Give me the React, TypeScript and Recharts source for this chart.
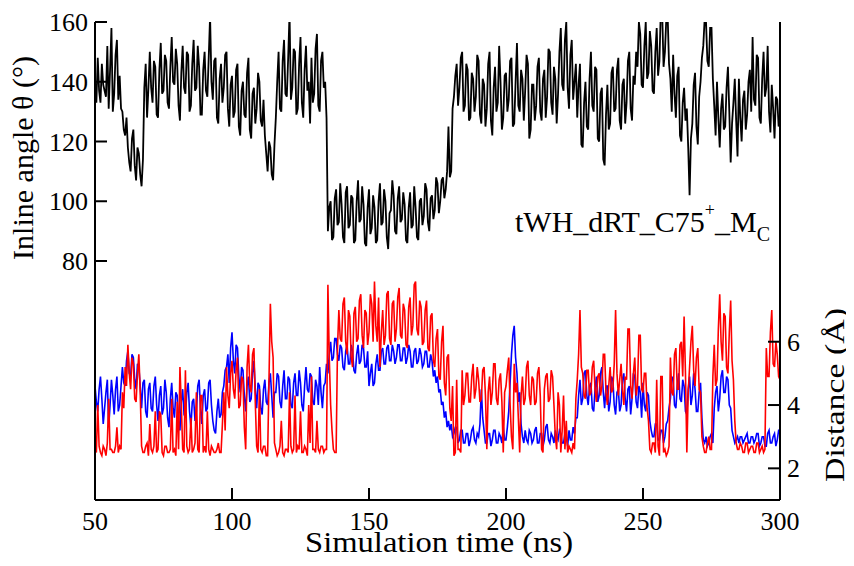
import { ComposedChart, Line, XAxis, YAxis } from "recharts";

// sampled every 0.5 ns from 50 to 300 ns (one row = 10 ns)
const angle = [
  140, 133, 148, 137, 133, 146, 139, 137, 135, 152, 131, 144, 158, 130, 136, 149, 154, 134, 142, 131,
  130, 124, 122, 128, 118, 113, 110, 121, 124, 112, 107, 118, 116, 109, 105, 114, 138, 146, 128, 138,
  150, 138, 133, 147, 145, 129, 128, 144, 153, 136, 137, 149, 147, 133, 131, 145, 155, 140, 139, 151,
  146, 132, 127, 143, 152, 138, 136, 150, 149, 130, 132, 146, 154, 137, 138, 152, 145, 129, 129, 144,
  150, 137, 135, 148, 162, 140, 134, 147, 148, 128, 126, 141, 146, 133, 138, 149, 150, 131, 125, 139,
  142, 128, 130, 144, 146, 125, 122, 137, 140, 129, 128, 143, 148, 124, 121, 136, 138, 126, 131, 143,
  140, 127, 125, 134, 122, 116, 110, 120, 118, 109, 107, 119, 128, 140, 150, 131, 130, 147, 154, 136,
  135, 148, 163, 134, 138, 151, 150, 129, 131, 146, 155, 133, 128, 144, 152, 137, 140, 126, 148, 133,
  136, 151, 156, 132, 130, 147, 150, 138, 140, 128, 90, 98, 100, 87, 88, 101, 104, 92, 93, 106,
  99, 88, 86, 103, 105, 91, 92, 102, 101, 86, 87, 100, 107, 93, 94, 105, 99, 86, 85, 98,
  104, 89, 91, 102, 98, 86, 87, 100, 106, 92, 93, 104, 100, 88, 84, 96, 97, 107, 102, 90,
  89, 101, 105, 93, 94, 103, 99, 87, 86, 98, 103, 91, 92, 105, 98, 88, 87, 100, 101, 92,
  95, 106, 104, 93, 90, 101, 102, 94, 97, 108, 106, 96, 100, 107, 108, 101, 104, 110, 125, 108,
  110, 131, 135, 142, 146, 132, 138, 148, 150, 130, 132, 146, 144, 127, 128, 143, 141, 130, 135, 149,
  147, 129, 126, 141, 139, 125, 131, 146, 150, 127, 122, 138, 145, 130, 133, 152, 140, 124, 128, 142,
  143, 130, 134, 147, 148, 125, 126, 140, 153, 132, 130, 144, 141, 127, 137, 149, 146, 121, 124, 139,
  139, 127, 132, 145, 148, 130, 127, 141, 144, 128, 135, 151, 150, 133, 129, 145, 141, 126, 136, 150,
  158, 139, 137, 154, 160, 138, 131, 149, 154, 134, 140, 146, 128, 139, 146, 119, 118, 133, 140, 125,
  124, 141, 150, 132, 130, 145, 144, 121, 120, 136, 138, 114, 112, 129, 139, 124, 126, 143, 145, 130,
  131, 144, 148, 127, 124, 139, 141, 126, 133, 147, 150, 131, 127, 142, 139, 150, 145, 160, 156, 139,
  138, 152, 160, 141, 143, 157, 152, 137, 136, 150, 158, 142, 147, 164, 163, 145, 150, 161, 162, 146,
  141, 130, 149, 136, 128, 142, 145, 122, 120, 133, 138, 127, 131, 118, 102, 121, 126, 139, 143, 125,
  119, 135, 140, 148, 152, 161, 160, 147, 145, 158, 158, 141, 132, 122, 140, 128, 118, 131, 136, 124,
  125, 138, 145, 130, 113, 126, 133, 141, 127, 115, 141, 128, 120, 134, 137, 124, 129, 140, 144, 130,
  155, 134, 132, 149, 148, 128, 126, 141, 150, 135, 138, 152, 130, 123, 139, 131, 121, 135, 134, 125,
  128,
];

const distBlue = [
  4.6, 4.1, 3.8, 4.5, 4.9, 4.2, 3.4, 3.9, 4.4, 4.8, 3.3, 4.0, 4.8, 4.3, 3.7, 4.5, 4.9, 3.8, 4.0, 4.6,
  5.2, 4.7, 4.6, 5.4, 5.7, 5.0, 4.9, 5.6, 5.5, 4.8, 4.5, 5.3, 5.2, 4.6, 3.9, 4.7, 4.8, 3.8, 3.6, 4.5,
  4.7, 3.9, 3.8, 4.6, 4.9, 4.0, 3.5, 4.3, 4.6, 3.7, 3.9, 4.8, 4.4, 3.6, 3.3, 4.2, 4.7, 3.9, 3.6, 4.4,
  4.3, 3.5, 3.2, 4.1, 4.5, 3.7, 3.6, 4.4, 4.7, 3.8, 3.3, 4.1, 4.2, 3.5, 3.8, 4.6, 4.8, 3.9, 3.4, 4.3,
  4.5, 3.8, 3.9, 4.7, 4.8, 4.0, 3.5, 3.2, 3.1, 3.8, 4.2, 3.6, 3.7, 4.4, 4.6, 5.1, 5.2, 5.6, 4.7, 5.8,
  6.3, 5.4, 5.0, 5.9, 5.8, 4.9, 4.4, 5.2, 5.1, 4.3, 3.8, 4.6, 4.9, 4.1, 4.2, 5.0, 5.4, 4.5, 3.9, 4.7,
  4.6, 3.9, 3.7, 4.5, 4.8, 4.1, 4.0, 4.7, 5.0, 4.3, 3.6, 4.4, 4.4, 5.0, 4.9, 4.1, 3.9, 4.6, 5.1, 4.2,
  4.2, 4.9, 4.8, 4.0, 3.9, 4.7, 5.0, 4.3, 4.3, 5.1, 4.7, 4.0, 3.8, 4.6, 5.2, 4.5, 4.4, 5.0, 4.9, 4.1,
  4.0, 4.8, 4.6, 4.0, 5.2, 4.4, 3.9, 4.6, 4.7, 5.3, 5.0, 5.6, 6.0, 5.4, 5.5, 6.1, 6.1, 5.6, 5.4, 5.9,
  5.8, 5.2, 5.1, 5.7, 5.9, 5.3, 5.3, 5.9, 5.7, 5.1, 5.0, 5.6, 5.9, 5.3, 5.4, 5.9, 5.8, 5.2, 5.2, 5.7,
  4.6, 5.0, 5.3, 4.6, 4.7, 5.3, 5.6, 5.1, 5.1, 5.7, 5.8, 5.3, 5.3, 5.8, 5.9, 5.4, 5.4, 5.9, 5.7, 5.3,
  5.5, 5.9, 5.9, 5.4, 5.4, 5.8, 5.8, 5.3, 5.5, 5.9, 5.7, 5.2, 5.2, 5.7, 5.8, 5.3, 5.4, 5.8, 5.6, 5.2,
  5.3, 5.7, 5.7, 5.2, 5.2, 5.6, 5.4, 4.9, 5.1, 4.7, 4.9, 4.4, 4.5, 4.0, 4.1, 3.6, 3.8, 3.3, 3.5, 3.2,
  3.4, 3.0, 3.1, 3.3, 3.3, 2.8, 2.9, 3.2, 3.2, 2.8, 2.8, 3.1, 3.1, 2.7, 2.9, 3.2, 3.3, 2.9, 2.8, 3.1,
  3.0, 3.4, 4.5, 3.6, 3.2, 2.8, 2.8, 3.1, 3.1, 2.7, 2.9, 3.2, 3.2, 2.8, 2.8, 3.1, 3.0, 2.8, 3.3, 2.9,
  2.9, 3.3, 3.8, 4.7, 5.6, 6.2, 6.5, 5.5, 5.0, 4.1, 4.4, 3.4, 3.0, 2.8, 3.2, 2.9, 2.8, 3.2, 3.1, 2.8,
  2.9, 3.2, 3.3, 2.8, 2.8, 3.1, 3.1, 2.7, 2.9, 3.3, 3.4, 2.9, 2.8, 3.1, 3.0, 2.8, 3.2, 3.0, 2.9, 3.2,
  3.1, 2.8, 2.8, 3.1, 3.0, 2.7, 3.2, 2.9, 2.9, 3.3, 3.1, 3.6, 3.6, 4.3, 4.8, 4.0, 4.2, 5.0, 5.1, 4.3,
  4.0, 4.6, 4.7, 3.9, 3.8, 4.5, 4.9, 4.1, 4.3, 5.0, 5.2, 4.4, 3.9, 4.6, 4.6, 3.8, 4.1, 4.9, 4.8, 4.0,
  3.7, 4.4, 4.5, 3.8, 4.0, 4.8, 5.0, 4.2, 3.8, 4.5, 4.6, 3.7, 4.2, 5.0, 4.9, 4.1, 3.9, 4.6, 4.4, 3.6,
  4.7, 4.0, 3.8, 4.4, 4.3, 3.5, 3.2, 3.0, 3.0, 3.4, 3.4, 2.9, 2.9, 3.2, 3.2, 2.8, 3.0, 3.4, 3.5, 3.9,
  4.2, 4.9, 4.8, 4.0, 3.9, 4.6, 5.0, 4.2, 4.1, 4.8, 4.6, 3.8, 3.7, 4.5, 4.9, 4.0, 4.3, 5.0, 4.5, 3.8,
  3.8, 4.4, 4.7, 3.6, 2.9, 2.8, 3.0, 2.7, 2.8, 3.0, 3.1, 2.8, 3.9, 4.4, 4.6, 3.8, 4.2, 4.9, 5.1, 4.4,
  4.4, 4.9, 4.8, 4.0, 3.9, 3.2, 3.0, 2.8, 2.9, 3.0, 2.8, 3.0, 3.0, 2.8, 2.9, 3.0, 3.1, 2.8, 2.8, 3.0,
  3.0, 2.8, 2.9, 3.1, 3.1, 2.7, 2.8, 3.0, 3.0, 2.7, 2.7, 3.1, 3.2, 2.8, 2.8, 3.0, 3.1, 2.7, 2.9, 3.2,
  3.2,
];

const distRed = [
  2.6, 2.5, 4.0, 2.7, 2.5, 2.4, 2.7, 2.6, 2.4, 2.8, 4.2, 2.6, 2.6, 2.5, 2.5, 2.7, 3.3, 2.5, 2.7, 2.6,
  4.4, 3.9, 5.2, 4.6, 5.9, 5.0, 4.5, 5.5, 5.3, 4.2, 4.1, 5.0, 5.6, 4.4, 2.7, 2.5, 2.5, 2.7, 2.8, 2.4,
  3.4, 2.6, 2.5, 2.7, 3.8, 2.5, 2.6, 3.8, 3.7, 2.5, 2.4, 2.7, 2.7, 2.5, 2.5, 2.6, 4.2, 2.5, 2.6, 2.4,
  4.1, 2.6, 5.2, 4.0, 2.6, 2.5, 5.1, 2.7, 2.5, 2.6, 3.6, 2.5, 2.6, 2.8, 4.4, 2.6, 2.5, 4.3, 4.3, 2.5,
  2.7, 2.5, 3.8, 2.6, 2.4, 2.7, 2.6, 2.5, 2.5, 2.6, 2.8, 2.5, 2.5, 3.4, 4.4, 3.2, 5.2, 4.3, 3.9, 5.0,
  5.4, 4.5, 4.2, 5.1, 5.5, 3.9, 4.0, 4.9, 4.8, 3.3, 2.6, 5.2, 5.9, 4.6, 4.4, 5.6, 5.8, 4.1, 2.7, 2.5,
  4.5, 2.6, 2.5, 2.7, 2.7, 2.4, 2.4, 4.8, 7.2, 6.0, 5.5, 2.8, 2.6, 2.4, 2.5, 2.7, 3.5, 2.5, 2.4, 2.6,
  2.6, 2.5, 4.4, 2.7, 2.5, 2.6, 4.3, 2.5, 2.7, 2.6, 3.8, 2.5, 2.5, 2.7, 2.6, 2.4, 4.0, 2.8, 4.9, 2.6,
  2.6, 2.5, 3.5, 2.6, 2.5, 2.7, 2.7, 2.5, 2.6, 2.6, 7.8, 5.5, 4.0, 3.2, 2.6, 2.5, 2.5, 5.8, 7.0, 6.1,
  6.0, 7.2, 7.4, 6.0, 5.6, 7.0, 6.8, 5.5, 5.2, 6.9, 7.1, 6.0, 6.1, 7.3, 7.5, 6.2, 5.8, 7.0, 6.9, 5.9,
  6.3, 7.5, 7.2, 6.0, 7.9, 6.5, 6.0, 7.4, 5.2, 6.3, 7.0, 5.9, 6.2, 7.5, 7.6, 6.1, 5.9, 7.2, 7.3, 6.0,
  6.4, 7.4, 7.7, 6.2, 6.1, 7.2, 7.0, 5.9, 5.8, 7.1, 7.4, 6.2, 6.5, 7.8, 7.9, 6.4, 6.2, 7.3, 7.1, 5.9,
  6.0, 7.0, 7.3, 5.8, 5.7, 6.8, 6.9, 5.4, 5.2, 6.1, 6.4, 4.9, 4.8, 6.0, 6.5, 4.7, 4.3, 5.5, 5.6, 3.9,
  3.5, 4.6, 2.4, 2.5, 4.8, 2.6, 2.6, 2.5, 5.1, 4.0, 4.3, 5.0, 5.0, 4.1, 4.1, 4.9, 5.3, 4.2, 4.5, 5.2,
  4.8, 4.1, 4.2, 5.1, 5.2, 4.3, 2.6, 4.4, 4.9, 4.0, 4.4, 5.3, 5.3, 4.2, 4.0, 4.8, 5.0, 4.1, 2.5, 4.4,
  4.6, 5.1, 5.5, 4.0, 3.0, 2.6, 5.3, 4.4, 4.7, 3.6, 2.5, 4.3, 4.9, 4.0, 4.2, 5.2, 5.4, 4.3, 4.0, 4.9,
  4.8, 4.0, 4.1, 5.0, 5.2, 4.3, 2.6, 2.5, 4.5, 4.9, 5.0, 4.1, 4.2, 5.1, 4.9, 4.0, 3.0, 2.6, 4.4, 4.0,
  2.5, 3.2, 4.3, 2.6, 3.5, 2.5, 2.7, 2.6, 2.5, 2.8, 2.6, 4.2, 4.8, 5.6, 7.0, 5.2, 5.0, 4.3, 4.2, 5.1,
  5.1, 4.3, 4.4, 5.2, 5.4, 4.5, 4.1, 4.9, 5.0, 4.3, 4.6, 5.6, 5.6, 4.4, 4.0, 4.6, 5.2, 4.4, 4.5, 5.3,
  7.0, 5.0, 4.3, 4.8, 5.3, 4.5, 4.0, 4.9, 4.8, 6.4, 6.4, 4.6, 4.2, 5.0, 5.5, 4.3, 4.6, 6.2, 6.2, 4.5,
  4.4, 5.0, 5.0, 3.9, 3.5, 2.6, 2.5, 2.8, 2.8, 2.5, 4.8, 2.7, 2.4, 4.9, 4.9, 2.5, 2.6, 2.4, 2.5, 2.7,
  5.5, 4.4, 4.3, 5.6, 5.8, 4.5, 4.5, 5.9, 6.0, 4.9, 6.8, 5.0, 2.5, 4.4, 5.2, 6.0, 6.5, 5.1, 4.6, 5.5,
  5.8, 4.5, 4.4, 3.0, 2.7, 2.5, 2.5, 2.8, 3.0, 2.6, 2.6, 4.9, 5.9, 4.6, 4.8, 6.4, 7.5, 6.0, 5.4, 6.9,
  6.8, 5.2, 5.0, 6.3, 7.3, 5.4, 4.8, 3.5, 2.8, 2.6, 2.6, 2.8, 2.7, 2.5, 2.5, 2.8, 2.8, 2.5, 2.6, 2.7,
  2.7, 2.5, 2.5, 2.8, 2.8, 2.5, 2.6, 2.7, 2.5, 2.6, 5.8, 4.9, 4.9, 6.3, 7.0, 5.3, 5.2, 6.0, 5.6, 4.9,
  4.8,
];

const timeTicks = [50, 100, 150, 200, 250, 300];
const angleTicks = [80, 100, 120, 140, 160];
const distTicks = [2, 4, 6];

const times = angle.map((_, i) => 50 + i * 0.5);
const data = times.map((t, i) => ({
  t,
  angle: angle[i],
  blue: distBlue[i],
  red: distRed[i],
}));

const W = 846;
const H = 550;
const LEFT = 87;
const RIGHT = 772;
const TOP = 14;
const BOTTOM = 492;
const TICK = 12;
const FONT = '"Liberation Serif", "DejaVu Serif", "Times New Roman", serif';
const txt = { fontFamily: FONT, fill: "#000" };

function LeftTick({ y, payload }: any) {
  return (
    <g>
      <line x1={LEFT} x2={LEFT + TICK} y1={y} y2={y} stroke="#000" strokeWidth={2} />
      <text x={LEFT - 7} y={y + 9} textAnchor="end" fontSize={26} style={txt}>
        {payload.value}
      </text>
    </g>
  );
}

function RightTick({ y, payload }: any) {
  return (
    <g>
      <line x1={RIGHT} x2={RIGHT - TICK} y1={y} y2={y} stroke="#000" strokeWidth={2} />
      <text x={RIGHT + 7} y={y + 9} textAnchor="start" fontSize={26} style={txt}>
        {payload.value}
      </text>
    </g>
  );
}

function BottomTick({ x, payload }: any) {
  return (
    <g>
      <line x1={x} x2={x} y1={BOTTOM} y2={BOTTOM - TICK} stroke="#000" strokeWidth={2} />
      <text x={x} y={BOTTOM + 30} textAnchor="middle" fontSize={26} style={txt}>
        {payload.value}
      </text>
    </g>
  );
}

function TopTick({ x }: any) {
  return <line x1={x} x2={x} y1={TOP} y2={TOP + TICK} stroke="#000" strokeWidth={2} />;
}

export default function App() {
  return (
    <div style={{ position: "relative", width: W, height: H, background: "#fff" }}>
      <ComposedChart
        width={W}
        height={H}
        data={data}
        margin={{ top: TOP, right: 0, bottom: 0, left: 0 }}
      >
        <XAxis
          xAxisId="b"
          dataKey="t"
          type="number"
          domain={[50, 300]}
          ticks={timeTicks}
          height={H - BOTTOM}
          axisLine={{ stroke: "#000", strokeWidth: 2 }}
          tickLine={false}
          tick={(p: any) => <BottomTick {...p} />}
        />
        <XAxis
          xAxisId="top"
          orientation="top"
          dataKey="t"
          type="number"
          domain={[50, 300]}
          ticks={timeTicks}
          height={0}
          axisLine={{ stroke: "#000", strokeWidth: 2 }}
          tickLine={false}
          tick={(p: any) => <TopTick {...p} />}
        />
        <YAxis
          yAxisId="a"
          type="number"
          domain={[0, 160]}
          allowDataOverflow
          ticks={angleTicks}
          width={LEFT}
          axisLine={{ stroke: "#000", strokeWidth: 2 }}
          tickLine={false}
          tick={(p: any) => <LeftTick {...p} />}
        />
        <YAxis
          yAxisId="d"
          orientation="right"
          type="number"
          domain={[1, 16.1]}
          allowDataOverflow
          ticks={distTicks}
          width={W - RIGHT}
          axisLine={{ stroke: "#000", strokeWidth: 2 }}
          tickLine={false}
          tick={(p: any) => <RightTick {...p} />}
        />
        <Line
          xAxisId="b"
          yAxisId="d"
          dataKey="blue"
          stroke="#0000ff"
          strokeWidth={1.6}
          dot={false}
          activeDot={false}
          isAnimationActive={false}
        />
        <Line
          xAxisId="b"
          yAxisId="d"
          dataKey="red"
          stroke="#ff0000"
          strokeWidth={1.6}
          dot={false}
          activeDot={false}
          isAnimationActive={false}
        />
        <Line
          xAxisId="b"
          yAxisId="a"
          dataKey="angle"
          stroke="#000"
          strokeWidth={1.8}
          dot={false}
          activeDot={false}
          isAnimationActive={false}
        />
      </ComposedChart>
      <svg
        width={W}
        height={H}
        style={{ position: "absolute", left: 0, top: 0, pointerEvents: "none", overflow: "visible" }}
      >
        <text x={25} y={150} transform="rotate(-90 25 150)" textAnchor="middle" fontSize={30} style={txt}>
          Inline angle θ (°)
        </text>
        <text
          x={836}
          y={387}
          transform="rotate(-90 836 387)"
          textAnchor="middle"
          fontSize={28}
          textLength={174}
          lengthAdjust="spacingAndGlyphs"
          style={txt}
        >
          Distance (Å)
        </text>
        <text
          x={431}
          y={544}
          textAnchor="middle"
          fontSize={29}
          textLength={268}
          lengthAdjust="spacingAndGlyphs"
          style={txt}
        >
          Simulation time (ns)
        </text>
        <text x={507} y={224} fontSize={30} style={txt}>
          tWH_dRT_C75
          <tspan dy={-16} fontSize={18}>+</tspan>
          <tspan dy={16}>_M</tspan>
          <tspan dy={9} fontSize={20}>C</tspan>
        </text>
      </svg>
    </div>
  );
}
